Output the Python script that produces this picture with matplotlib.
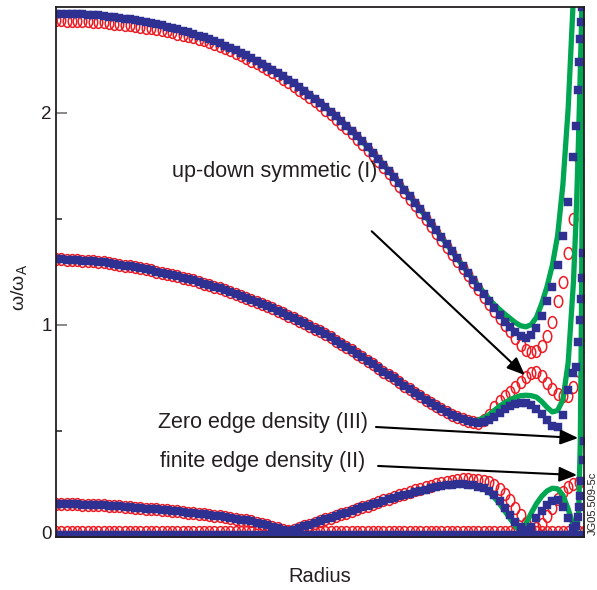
import numpy as np
import matplotlib
matplotlib.use("Agg")
import matplotlib.pyplot as plt
from matplotlib.path import Path
import matplotlib.transforms as mtransforms

plt.rcParams['font.family'] = ['Liberation Sans', 'DejaVu Sans']

# ---------------- data (radius grid and eigenfrequency branches) -------------
r_grid = [round(0.01 * i, 2) for i in range(99)]          # 0.00 .. 0.98

# --- upper branch ---
w_top_blue = [
    2.469, 2.469, 2.468, 2.467, 2.466, 2.465, 2.463, 2.462, 2.460, 2.457,
    2.454, 2.451, 2.448, 2.444, 2.441, 2.437, 2.432, 2.428, 2.423, 2.418,
    2.413, 2.407, 2.401, 2.394, 2.387, 2.380, 2.373, 2.365, 2.356, 2.347,
    2.338, 2.328, 2.318, 2.308, 2.296, 2.284, 2.272, 2.259, 2.246, 2.233,
    2.219, 2.204, 2.189, 2.174, 2.157, 2.140, 2.122, 2.104, 2.086, 2.067,
    2.047, 2.027, 2.006, 1.984, 1.961, 1.939, 1.915, 1.890, 1.865, 1.838,
    1.812, 1.784, 1.756, 1.727, 1.697, 1.668, 1.637, 1.607, 1.575, 1.544,
    1.511, 1.478, 1.446, 1.412, 1.380, 1.346, 1.313, 1.279, 1.246, 1.212,
    1.179, 1.145, 1.112, 1.079, 1.047, 1.015, 0.987, 0.965, 0.948, 0.938,
    0.952, 0.985, 1.040, 1.110, 1.180, 1.280, 1.420, 1.580, 1.790]
r_top_blue_edge = [0.985, 0.989, 0.991, 0.993, 0.995, 0.997]
w_top_blue_edge = [1.94, 2.11, 2.24, 2.35, 2.43, 2.50]

w_top_red = [
    2.437, 2.437, 2.436, 2.435, 2.434, 2.433, 2.432, 2.431, 2.429, 2.427,
    2.425, 2.422, 2.420, 2.417, 2.414, 2.411, 2.407, 2.403, 2.399, 2.395,
    2.390, 2.385, 2.380, 2.374, 2.368, 2.362, 2.356, 2.349, 2.342, 2.334,
    2.326, 2.316, 2.306, 2.296, 2.284, 2.272, 2.260, 2.247, 2.234, 2.221,
    2.207, 2.192, 2.177, 2.162, 2.145, 2.128, 2.110, 2.092, 2.074, 2.055,
    2.035, 2.015, 1.994, 1.972, 1.949, 1.927, 1.903, 1.878, 1.853, 1.826,
    1.800, 1.772, 1.744, 1.715, 1.685, 1.656, 1.625, 1.595, 1.563, 1.532,
    1.499, 1.466, 1.434, 1.400, 1.368, 1.334, 1.301, 1.267, 1.234, 1.200,
    1.167, 1.133, 1.099, 1.065, 1.031, 0.998, 0.972, 0.938, 0.905, 0.882,
    0.872, 0.875, 0.900, 0.945, 1.015, 1.110, 1.200, 1.340, 1.500]
r_top_red_edge = [0.99]
w_top_red_edge = [1.78]

w_top_green = w_top_blue[:78] + [
    1.246, 1.214,
    1.183, 1.152, 1.122, 1.095, 1.072, 1.050, 1.030, 1.010, 0.995, 0.990,
    1.000, 1.035, 1.100, 1.180, 1.280, 1.420, 1.660, 2.020, 2.550]

# --- middle branch ---
w_mid_blue = [
    1.308, 1.308, 1.307, 1.306, 1.305, 1.303, 1.301, 1.299, 1.297, 1.294,
    1.291, 1.287, 1.283, 1.279, 1.275, 1.271, 1.266, 1.262, 1.257, 1.251,
    1.246, 1.240, 1.234, 1.228, 1.222, 1.216, 1.209, 1.202, 1.194, 1.187,
    1.179, 1.171, 1.163, 1.155, 1.146, 1.137, 1.127, 1.117, 1.107, 1.097,
    1.087, 1.077, 1.066, 1.054, 1.043, 1.031, 1.019, 1.007, 0.995, 0.982,
    0.969, 0.954, 0.940, 0.925, 0.910, 0.896, 0.879, 0.863, 0.846, 0.829,
    0.813, 0.796, 0.779, 0.763, 0.746, 0.729, 0.712, 0.696, 0.679, 0.662,
    0.646, 0.631, 0.616, 0.602, 0.588, 0.576, 0.564, 0.554, 0.546, 0.540,
    0.538, 0.541, 0.549, 0.563, 0.582, 0.600, 0.614, 0.624, 0.630, 0.629,
    0.620, 0.602, 0.578, 0.548, 0.524, 0.516, 0.575, 0.690, 0.770]
r_mid_blue_edge = [0.985, 0.989, 0.992, 0.995, 0.997, 0.999]
w_mid_blue_edge = [0.80, 0.92, 1.02, 1.12, 1.22, 1.34]

w_mid_red = w_mid_blue[:81] + [
    0.550, 0.575, 0.610, 0.642, 0.665, 0.682, 0.705, 0.728, 0.755,
    0.772, 0.776, 0.758, 0.725, 0.695, 0.675, 0.662, 0.665, 0.705]
r_mid_red_edge = [0.99, 1.0]
w_mid_red_edge = [0.78, 0.90]

w_mid_green = w_mid_blue[:79] + [
    0.545,
    0.550, 0.560, 0.575, 0.595, 0.615, 0.632, 0.646, 0.657, 0.665, 0.667,
    0.665, 0.658, 0.637, 0.610, 0.588, 0.595, 0.645, 0.820, 1.200]
r_mid_green_edge = [0.985, 0.989, 0.993, 0.997]
w_mid_green_edge = [1.50, 1.82, 2.20, 2.60]

# --- lowest branch ---
w_low_blue = [
    0.153, 0.153, 0.153, 0.152, 0.152, 0.151, 0.150, 0.149, 0.148, 0.147,
    0.145, 0.144, 0.142, 0.140, 0.138, 0.136, 0.134, 0.132, 0.130, 0.128,
    0.126, 0.124, 0.121, 0.119, 0.116, 0.113, 0.110, 0.107, 0.104, 0.101,
    0.098, 0.095, 0.092, 0.088, 0.084, 0.080, 0.076, 0.071, 0.066, 0.060,
    0.054, 0.047, 0.040, 0.032, 0.024, 0.032, 0.040, 0.048, 0.056, 0.064,
    0.073, 0.081, 0.089, 0.097, 0.105, 0.113, 0.121, 0.129, 0.137, 0.145,
    0.153, 0.160, 0.168, 0.175, 0.182, 0.189, 0.196, 0.203, 0.209, 0.215,
    0.221, 0.227, 0.232, 0.237, 0.241, 0.244, 0.246, 0.246, 0.244, 0.241,
    0.236, 0.228, 0.215, 0.195, 0.168, 0.134, 0.100, 0.070, 0.047, 0.030,
    0.045, 0.085, 0.120, 0.150, 0.168, 0.172, 0.140, 0.088, 0.040]
r_low_blue_edge = [0.985, 0.988, 0.990, 0.992, 0.995, 0.998, 1.0]
w_low_blue_edge = [0.05, 0.09, 0.14, 0.19, 0.26, 0.36, 0.45]

w_low_red = w_low_blue[:61] + [
    0.161, 0.170, 0.178, 0.186, 0.194, 0.202, 0.210, 0.218, 0.226,
    0.233, 0.240, 0.247, 0.253, 0.259, 0.264, 0.268, 0.270, 0.270, 0.268,
    0.265, 0.261, 0.255, 0.242, 0.225, 0.200, 0.170, 0.135, 0.100, 0.065,
    0.035, 0.040, 0.060, 0.095, 0.135, 0.178, 0.210, 0.232, 0.250]
r_low_red_edge = [0.99]
w_low_red_edge = [0.255]

w_low_green = w_low_blue[:80] + [
    0.236, 0.226, 0.210, 0.185, 0.155, 0.120, 0.085, 0.050, 0.020, 0.060,
    0.110, 0.155, 0.190, 0.215, 0.228, 0.225, 0.195, 0.130, 0.050]
r_low_green_edge = [0.985, 0.99, 0.993, 0.995, 0.997, 0.999]
w_low_green_edge = [0.02, 0.12, 0.45, 1.00, 1.80, 2.60]

# --- zero-frequency branch (constant level) ---
r_zero = [round(0.01 * i, 2) for i in range(101)]
w_zero_red = 0.02
w_zero_blue = 0.008

# ---------------- styling ----------------
RED = '#ed1c24'
BLUE = '#2e3192'
GREEN = '#00a651'
INK = '#231f20'

ellipse = Path.unit_circle().transformed(mtransforms.Affine2D().scale(0.72, 1.0))

fig = plt.figure(figsize=(5.97, 5.90), dpi=100)
ax = fig.add_axes([56 / 597, 1 - 536.5 / 590, 528 / 597, 529.5 / 590])
ax.set_xlim(0, 1)
ax.set_ylim(0, 2.5)


def full(main, r_edge=None, w_edge=None):
    n = min(len(main), len(r_grid))
    r = list(r_grid[:n])
    w = list(main[:n])
    if r_edge:
        r += list(r_edge)
        w += list(w_edge)
    return np.array(r), np.array(w)


def red(r, w):
    ax.plot(r, w, ls='none', marker=ellipse, ms=8.5, mfc='none', mec=RED,
            mew=1.1, zorder=2)


def green(r, w):
    ax.plot(r, w, ls='-', color=GREEN, lw=3.8, zorder=3,
            solid_capstyle='round', solid_joinstyle='round')


def blue(r, w):
    ax.plot(r, w, ls='none', marker='s', ms=5.1, mfc=BLUE, mec=BLUE,
            mew=0.3, zorder=4)


# zero branch
rz = np.array(r_zero)
red(rz, np.full(len(rz), w_zero_red))
green(rz, np.full(len(rz), w_zero_blue))
blue(rz, np.full(len(rz), w_zero_blue))

# red (open circles)
red(*full(w_top_red, r_top_red_edge, w_top_red_edge))
red(*full(w_mid_red, r_mid_red_edge, w_mid_red_edge))
red(*full(w_low_red, r_low_red_edge, w_low_red_edge))

# green
green(*full(w_top_green))
green(*full(w_mid_green, r_mid_green_edge, w_mid_green_edge))
green(*full(w_low_green, r_low_green_edge, w_low_green_edge))

# blue
blue(*full(w_top_blue, r_top_blue_edge, w_top_blue_edge))
blue(*full(w_mid_blue, r_mid_blue_edge, w_mid_blue_edge))
blue(*full(w_low_blue, r_low_blue_edge, w_low_blue_edge))

# ---------------- axes cosmetics ----------------
for s in ax.spines.values():
    s.set_color(INK)
    s.set_linewidth(1.3)
    s.set_zorder(6)

ax.set_xticks([])
ax.set_yticks([0, 1, 2])
ax.set_yticklabels(['0', '1', '2'])
ax.set_yticks([0.5, 1.5], minor=True)
ax.tick_params(axis='y', which='major', direction='in', length=8, width=1.3,
               color='#808080', labelsize=13.5, labelcolor=INK, pad=3)
ax.tick_params(axis='y', which='minor', direction='in', length=4, width=1.1,
               color=INK)
# the "0" label sits a little above the bottom spine in the original
zero_lab = ax.get_yticklabels()[0]
zero_lab.set_transform(zero_lab.get_transform() +
                       mtransforms.ScaledTranslation(0, 4 / 100, fig.dpi_scale_trans))

fig.text(20 / 597, 1 - 287 / 590, 'ω/ω$_\\mathregular{A}$', rotation=90,
         ha='center', va='center', fontsize=14, color=INK)
fig.text(320 / 597, 1 - 577 / 590, 'Radius', ha='center', va='center',
         fontsize=14.5, color=INK)
fig.text(593 / 597, 1 - 503 / 590, 'JG05.509-5c', rotation=90,
         ha='center', va='center', fontsize=8, color=INK)

# ---------------- annotations ----------------
arrow = dict(arrowstyle='-|>,head_length=0.6,head_width=0.25',
             mutation_scale=18, lw=1.5, color='black', shrinkA=0, shrinkB=0)

ax.text(0.415, 1.724, 'up-down symmetic (I)', ha='center', va='center',
        fontsize=15.5, color=INK, zorder=7)
ax.annotate('', xy=(0.888, 0.762), xytext=(0.598, 1.441),
            arrowprops=arrow, zorder=7)

ax.text(0.392, 0.540, 'Zero edge density (III)', ha='center', va='center',
        fontsize=15.5, color=INK, zorder=7)
ax.annotate('', xy=(0.989, 0.465), xytext=(0.606, 0.517),
            arrowprops=arrow, zorder=7)

ax.text(0.392, 0.356, 'finite edge density (II)', ha='center', va='center',
        fontsize=15.5, color=INK, zorder=7)
ax.annotate('', xy=(0.987, 0.290), xytext=(0.610, 0.333),
            arrowprops=arrow, zorder=7)

fig.savefig('out.png', dpi=100)
